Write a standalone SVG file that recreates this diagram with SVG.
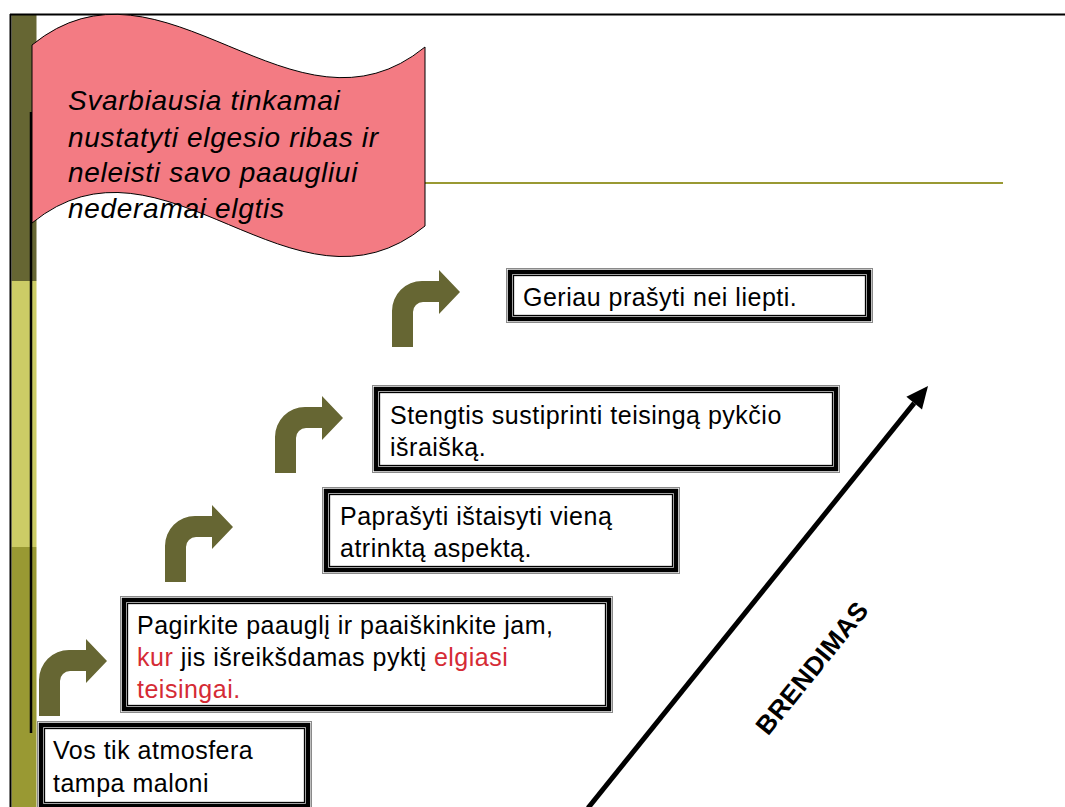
<svg xmlns="http://www.w3.org/2000/svg" width="1065" height="807" viewBox="0 0 1065 807">
<style>
.t{font-family:"Liberation Sans",Arial,sans-serif;font-size:25px;letter-spacing:0.5px;fill:#000}
.r{fill:#D52B35}
.fl{font-family:"Liberation Sans",Arial,sans-serif;font-size:28px;font-style:italic;letter-spacing:0.7px;fill:#000}
.bo{fill:#fff;stroke:#8a8a8a;stroke-width:1}
.bt{fill:none;stroke:#000;stroke-width:4.5}
.bn{fill:none;stroke:#000;stroke-width:1.3}
.ar{fill:#666633}
</style>
<defs>
<path id="bent" d="M0,0 V-36 A30,30 0 0 1 30,-66 H47 V-77 L68,-55 L47,-33 V-45 H31 A10,10 0 0 0 21,-35 V0 Z"/>
</defs>
<rect width="1065" height="807" fill="#fff"/>
<g id="frame">
<rect x="11.5" y="15" width="25" height="266" fill="#666633"/>
<rect x="11.5" y="281" width="25" height="266" fill="#CCCC66"/>
<rect x="11.5" y="547" width="25" height="260" fill="#999933"/>
<line x1="10.5" y1="14" x2="10.5" y2="807" stroke="#000" stroke-width="2"/>
<line x1="10" y1="14.5" x2="1065" y2="14.5" stroke="#000" stroke-width="2"/>
<line x1="36" y1="183" x2="1003" y2="183" stroke="#999933" stroke-width="2"/>
<line x1="31" y1="112" x2="31" y2="733" stroke="#000" stroke-width="2.5"/>
</g>
<g id="flag">
<path d="M32,45 C163,-62 294,154 425,47 V226 C294,333 163,116 32,223 Z" fill="#F37B83" stroke="#000" stroke-width="1"/>
<text class="fl" x="68" y="110">Svarbiausia tinkamai</text>
<text class="fl" x="68" y="147">nustatyti elgesio ribas ir</text>
<text class="fl" x="68" y="182">neleisti savo paaugliui</text>
<text class="fl" x="68" y="218">nederamai elgtis</text>
</g>
<g id="arrows">
<use href="#bent" class="ar" transform="translate(39,716)"/>
<use href="#bent" class="ar" transform="translate(165,582)"/>
<use href="#bent" class="ar" transform="translate(275,473)"/>
<use href="#bent" class="ar" transform="translate(392,347)"/>
</g>
<g id="box-vos">
<rect class="bo" x="37.5" y="721.5" width="274" height="88"/>
<rect class="bt" x="41" y="725" width="267" height="81"/>
<rect class="bn" x="44.5" y="728.5" width="260" height="74"/>
<text class="t" x="53" y="759">Vos tik atmosfera</text>
<text class="t" x="53" y="792">tampa maloni</text>
</g>
<g id="box-pagirkite">
<rect class="bo" x="120.5" y="596.5" width="492" height="116"/>
<rect class="bt" x="124" y="600" width="485" height="109"/>
<rect class="bn" x="127.5" y="603.5" width="478" height="102"/>
<text class="t" x="137" y="634">Pagirkite paauglį ir paaiškinkite jam,</text>
<text class="t" x="137" y="666"><tspan class="r">kur</tspan> jis išreikšdamas pyktį <tspan class="r">elgiasi</tspan></text>
<text class="t r" x="137" y="698">teisingai.</text>
</g>
<g id="box-paprasyti">
<rect class="bo" x="322.5" y="487.5" width="357" height="86"/>
<rect class="bt" x="326" y="491" width="350" height="79"/>
<rect class="bn" x="329.5" y="494.5" width="343" height="72"/>
<text class="t" x="340" y="525">Paprašyti ištaisyti vieną</text>
<text class="t" x="340" y="557">atrinktą aspektą.</text>
</g>
<g id="box-stengtis">
<rect class="bo" x="372.5" y="385.5" width="467" height="87"/>
<rect class="bt" x="376" y="389" width="460" height="80"/>
<rect class="bn" x="379.5" y="392.5" width="453" height="73"/>
<text class="t" x="390" y="424">Stengtis sustiprinti teisingą pykčio</text>
<text class="t" x="390" y="456">išraišką.</text>
</g>
<g id="box-geriau">
<rect class="bo" x="506.5" y="268.5" width="366" height="54"/>
<rect class="bt" x="510" y="272" width="359" height="47"/>
<rect class="bn" x="513.5" y="275.5" width="352" height="40"/>
<text class="t" x="523" y="306">Geriau prašyti nei liepti.</text>
</g>
<g id="connectors">
<line x1="588" y1="808" x2="914.2" y2="403.1" stroke="#000" stroke-width="5"/>
<polygon points="928,386 922,409.4 906.4,396.8" fill="#000"/>
</g>
<g id="label-brendimas">
<text transform="translate(812,668) rotate(-51)" x="0" y="9" text-anchor="middle" font-family="Liberation Sans, Arial, sans-serif" font-size="26" font-weight="bold" letter-spacing="0.5">BRENDIMAS</text>
</g>
</svg>
